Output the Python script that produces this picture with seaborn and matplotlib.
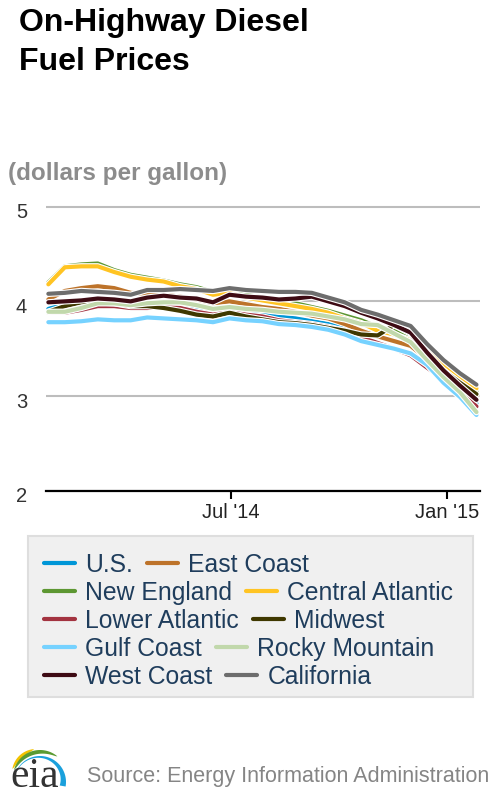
import numpy as np
import pandas as pd
import matplotlib
matplotlib.use('Agg')
import matplotlib.pyplot as plt
import matplotlib.patheffects as pe
from matplotlib.lines import Line2D
from matplotlib.patches import Rectangle, Polygon
from matplotlib.transforms import ScaledTranslation
import seaborn as sns

dates = pd.date_range('2014-01-27', periods=27, freq='14D')

us = [3.92, 3.97, 3.99, 4.00, 3.99, 3.97, 3.97, 3.95, 3.93, 3.92, 3.89, 3.91, 3.88, 3.86,
      3.84, 3.82, 3.79, 3.76, 3.72, 3.68, 3.67, 3.66, 3.58, 3.40, 3.25, 3.07, 2.92]
east_coast = [4.02, 4.11, 4.14, 4.16, 4.14, 4.09, 4.08, 4.07, 4.05, 4.02, 3.98, 4.00, 3.97, 3.94,
              3.92, 3.89, 3.85, 3.82, 3.76, 3.69, 3.63, 3.58, 3.53, 3.39, 3.24, 3.12, 3.00]
new_england = [4.20, 4.37, 4.39, 4.40, 4.33, 4.28, 4.25, 4.22, 4.18, 4.15, 4.10, 4.11, 4.07, 4.04,
               4.01, 3.98, 3.94, 3.90, 3.85, 3.80, 3.73, 3.69, 3.62, 3.48, 3.34, 3.19, 3.05]
central_atlantic = [4.18, 4.36, 4.37, 4.37, 4.31, 4.26, 4.23, 4.21, 4.16, 4.13, 4.07, 4.09, 4.04, 4.01,
                    3.98, 3.95, 3.92, 3.88, 3.82, 3.77, 3.69, 3.65, 3.59, 3.47, 3.34, 3.21, 3.08]
lower_atlantic = [3.88, 3.88, 3.91, 3.95, 3.95, 3.93, 3.93, 3.94, 3.93, 3.89, 3.86, 3.89, 3.86, 3.84,
                  3.80, 3.78, 3.76, 3.73, 3.69, 3.62, 3.56, 3.50, 3.43, 3.30, 3.18, 3.04, 2.89]
midwest = [3.89, 3.95, 3.99, 3.99, 3.98, 3.95, 3.95, 3.93, 3.90, 3.86, 3.84, 3.88, 3.84, 3.81,
           3.78, 3.77, 3.75, 3.72, 3.69, 3.65, 3.64, 3.75, 3.66, 3.42, 3.27, 3.14, 3.02]
gulf_coast = [3.78, 3.78, 3.79, 3.81, 3.80, 3.80, 3.83, 3.82, 3.81, 3.80, 3.78, 3.82, 3.80, 3.79,
              3.76, 3.75, 3.73, 3.70, 3.65, 3.58, 3.54, 3.50, 3.45, 3.33, 3.14, 2.99, 2.80]
rocky_mountain = [3.89, 3.89, 3.93, 3.98, 3.98, 3.96, 3.98, 3.99, 3.99, 3.96, 3.92, 3.94, 3.92, 3.91,
                  3.89, 3.88, 3.87, 3.84, 3.81, 3.76, 3.75, 3.66, 3.57, 3.38, 3.20, 3.04, 2.83]
west_coast = [3.99, 4.00, 4.01, 4.03, 4.02, 4.00, 4.04, 4.06, 4.04, 4.03, 3.99, 4.07, 4.05, 4.04,
              4.02, 4.03, 4.05, 4.00, 3.95, 3.88, 3.82, 3.75, 3.67, 3.46, 3.27, 3.11, 2.96]
california = [4.08, 4.09, 4.11, 4.10, 4.09, 4.07, 4.12, 4.12, 4.13, 4.12, 4.11, 4.14, 4.12, 4.11,
              4.10, 4.10, 4.09, 4.04, 3.99, 3.91, 3.86, 3.80, 3.74, 3.55, 3.38, 3.24, 3.12]

names = ['U.S.', 'East Coast', 'New England', 'Central Atlantic', 'Lower Atlantic',
         'Midwest', 'Gulf Coast', 'Rocky Mountain', 'West Coast', 'California']
series = [us, east_coast, new_england, central_atlantic, lower_atlantic,
          midwest, gulf_coast, rocky_mountain, west_coast, california]
colors = ['#0096d7', '#bd732a', '#5d9732', '#ffc423', '#a33340',
          '#3f3800', '#76d2ff', '#c1d8ab', '#3e0b14', '#6d6d6d']

ticks = [pd.Timestamp('2014-07-01'), pd.Timestamp('2015-01-01')]
tick_labels = ["Jul '14", "Jan '15"]

df = pd.DataFrame({'date': dates})
for n, s in zip(names, series):
    df[n] = s
df_long = df.melt(id_vars='date', var_name='region', value_name='price')

sns.set_theme(style='white')
plt.rcParams['font.family'] = ['Liberation Sans', 'DejaVu Sans']

fig = plt.figure(figsize=(5, 8), dpi=100)
# main plot, placed in pixel terms (axis line at y=491, top grid at y=207)
ymax = 5.1
h_px = 284 * (ymax - 2) / 3
ax = fig.add_axes([46 / 500, 1 - 490.7 / 800, 434 / 500, h_px / 800])

sns.lineplot(data=df_long, x='date', y='price', hue='region', hue_order=names,
             palette=dict(zip(names, colors)), linewidth=3.0, legend=False, ax=ax)
for line in ax.get_lines():
    line.set_path_effects([pe.Stroke(linewidth=4.6, foreground='white'), pe.Normal()])
    line.set_solid_joinstyle('round')

ax.set_xlim(dates[0] - pd.Timedelta(days=2), dates[-1] + pd.Timedelta(days=3))
ax.set_ylim(2, ymax)
ax.set_yticks([2, 3, 4, 5])
ax.set_yticklabels(['2', '3', '4', '5'])
ax.set_xticks(ticks)
ax.set_xticklabels(tick_labels)
ax.set_xlabel('')
ax.set_ylabel('')
ax.grid(axis='y', color='#bdbdbd', linewidth=1.5)
ax.set_axisbelow(True)
for side in ['left', 'right', 'top']:
    ax.spines[side].set_visible(False)
ax.spines['bottom'].set_color('black')
ax.spines['bottom'].set_linewidth(1.6)
ax.tick_params(axis='x', direction='out', length=6, width=1.5, color='black',
               labelsize=14.5, labelcolor='#222222', pad=3, bottom=True)
ax.tick_params(axis='y', length=0, pad=13.5, labelsize=14.5, labelcolor='#333333')
for lbl in ax.get_yticklabels():
    lbl.set_transform(lbl.get_transform() + ScaledTranslation(0, -0.04, fig.dpi_scale_trans))

# overlay in pixel coordinates for titles, legend box and logo
deco = fig.add_axes([0, 0, 1, 1], zorder=-1)
deco.set_xlim(0, 500)
deco.set_ylim(800, 0)
deco.axis('off')

deco.text(19, 31, 'On-Highway Diesel', fontsize=23, fontweight='bold', color='black', va='baseline')
deco.text(19, 70, 'Fuel Prices', fontsize=23, fontweight='bold', color='black', va='baseline')
deco.text(8, 180, '(dollars per gallon)', fontsize=17.5, fontweight='bold', color='#8c8c8c', va='baseline')

deco.add_patch(Rectangle((28, 536), 445, 161, facecolor='#f0f0f0', edgecolor='#dedede', linewidth=1.5))
for i in range(5):
    pair = [2 * i, 2 * i + 1]
    handles = [Line2D([], [], color=colors[k], linewidth=3) for k in pair]
    fig.legend(handles, [names[k] for k in pair], loc='center left',
               bbox_to_anchor=(44 / 500, 1 - (565 + 28 * i) / 800), ncol=2, frameon=False,
               fontsize=17.8, handlelength=1.25, handletextpad=0.42, columnspacing=0.55,
               borderpad=0, borderaxespad=0, labelcolor='#1f3d5c')

deco.text(87, 782, 'Source: Energy Information Administration', fontsize=15.5,
          color='#858585', va='baseline')


def band(cx, cy, r, a0, a1, widths, color):
    t = np.radians(np.linspace(a0, a1, len(widths)))
    outer = np.column_stack([cx + r * np.cos(t), cy - r * np.sin(t)])
    inner = np.column_stack([cx + (r - widths) * np.cos(t), cy - (r - widths) * np.sin(t)])
    deco.add_patch(Polygon(np.vstack([outer, inner[::-1]]), closed=True, color=color, lw=0))


s = np.linspace(0, 1, 60)
band(36, 773, 24, 170, 95, 3.5 * np.sin(np.pi * s) ** 0.6, '#f2c200')
band(40, 777, 27, 165, 50, 4.0 * np.sin(np.pi * s) ** 0.6, '#5a9a31')
band(40, 782, 26, 155, -10, 0.5 + 5.5 * s ** 1.5, '#1aa0dc')
deco.text(10, 787, 'eia', family=['Liberation Serif', 'DejaVu Serif'], fontsize=30,
          color='#333333', va='baseline')

fig.savefig('out.png', dpi=100)
